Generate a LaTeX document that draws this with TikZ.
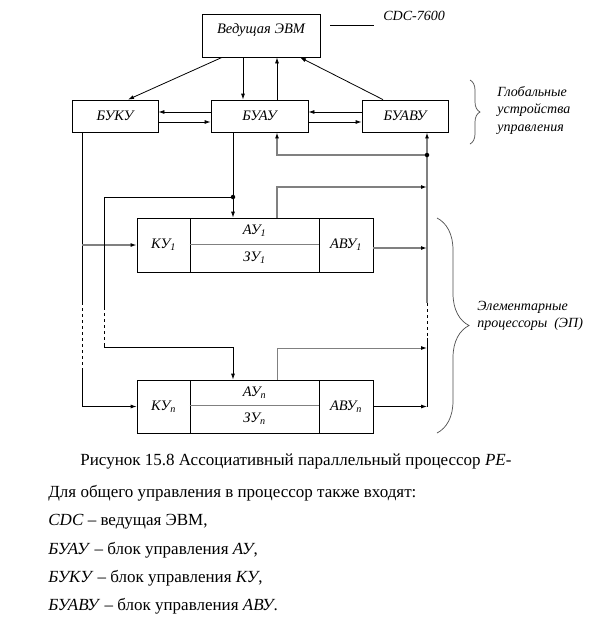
\documentclass[tikz,border=0pt]{standalone}
\usepackage{fontspec}
\setmainfont{Liberation Serif}
\usetikzlibrary{arrows.meta,decorations.pathreplacing}

\begin{document}
\begin{tikzpicture}[x=1pt, y=-1pt, line width=0.8pt,
    blok/.style = {draw, rectangle, inner sep=0pt, font=\fontsize{14.5}{16}\selectfont\itshape},
    arr/.style = {-{Latex[length=6pt,width=4pt,black]}},
    siva/.style = {draw=black!50, line width=1.4pt},
    tocka/.style = {circle, fill, inner sep=0pt, minimum size=4.5pt},
    zavit/.style = {decorate, decoration={brace, amplitude=#1}, draw=black!70, line width=0.7pt},
    oznaka/.style = {align=left, anchor=west, inner sep=0pt, font=\fontsize{14}{17.5}\selectfont\itshape},
    besedilo/.style = {anchor=base west, inner sep=0pt, font=\fontsize{17}{20}\selectfont}]

    \useasboundingbox (0,0) rectangle (611,622);

    % Ведущая ЭВМ и глобальные устройства управления
    \node[blok, minimum width=118, minimum height=43, text height=10pt, text depth=15pt] (evm) at (261,35.5) {Ведущая ЭВМ};
    \node[blok, minimum width=86, minimum height=32] (buku) at (115,116) {БУКУ};
    \node[blok, minimum width=97, minimum height=32] (buau) at (259.5,116) {БУАУ};
    \node[blok, minimum width=86, minimum height=32] (buavu) at (405,116) {БУАВУ};

    % Элементарный процессор 1
    \node[blok, minimum width=53, minimum height=54] (ku1) at (163.5,245) {КУ\textsubscript{1}};
    \node[blok, minimum width=129, minimum height=26] (au1) at (254.5,231) {АУ\textsubscript{1}};
    \node[blok, minimum width=129, minimum height=28] (zu1) at (254.5,258) {ЗУ\textsubscript{1}};
    \node[blok, minimum width=54, minimum height=54] (avu1) at (346,245) {АВУ\textsubscript{1}};

    % Элементарный процессор n
    \node[blok, minimum width=53, minimum height=53] (kun) at (163.5,406.5) {КУ\textsubscript{n}};
    \node[blok, minimum width=129, minimum height=25] (aun) at (254.5,392.5) {АУ\textsubscript{n}};
    \node[blok, minimum width=129, minimum height=28] (zun) at (254.5,419) {ЗУ\textsubscript{n}};
    \node[blok, minimum width=54, minimum height=53] (avun) at (346,406.5) {АВУ\textsubscript{n}};
    \draw[siva] (au1.south west) -- (au1.south east);
    \draw[siva, line width=1pt] (aun.south west) -- (aun.south east);

    % Связи ЭВМ с блоками управления
    \draw[arr] ([xshift=-39pt]evm.south) -- ([xshift=13pt]buku.north);
    \draw[arr] ([xshift=-18pt]evm.south) -- ([xshift=-16.5pt]buau.north);
    \draw[arr] ([xshift=17.5pt]buau.north) -- ([xshift=16pt]evm.south);
    \draw[arr] ([xshift=-22pt]buavu.north) -- ([xshift=39pt]evm.south);
    \draw[arr] ([yshift=4pt]buau.west) -- ([yshift=4pt]buku.east);
    \draw[arr] ([yshift=-6pt]buku.east) -- ([yshift=-6pt]buau.west);
    \draw[arr] ([yshift=4pt]buavu.west) -- ([yshift=4pt]buau.east);
    \draw[arr] ([yshift=-6pt]buau.east) -- ([yshift=-6pt]buavu.west);

    % Шина справа
    \coordinate (s0) at (427,155);
    \coordinate (s1) at (427,187);
    \coordinate (s2) at (427,248);
    \coordinate (s3) at (427,303);
    \coordinate (s4) at (427,338);
    \coordinate (s5) at (427,348);
    \coordinate (s6) at (427,406.5);
    \draw[siva, arr] (s3) -- ([xshift=22pt]buavu.south);
    \draw[dashed] (s3) -- (s4);
    \draw (s4) -- (s6);
    \draw[siva, arr] (s0) -| ([xshift=17.5pt]buau.south);
    \node[tocka] (t0) at (s0) {};
    \draw[siva, arr] ([xshift=22.5pt]au1.north) |- (s1);
    \draw[siva, arr] (avu1.east |- s2) -- (s2);
    \draw[siva, line width=1pt, arr] ([xshift=22.5pt]aun.north) |- (s5);
    \draw[arr] (avun.east) -- (s6);

    % Линия от БУКУ
    \coordinate (k1) at (82,302);
    \coordinate (k2) at (82,368);
    \draw ([xshift=-33pt]buku.south) -- (k1);
    \draw[dashed] (k1) -- (k2);
    \draw[arr] (k2) |- (kun.west);
    \draw[siva, arr] (ku1.west -| k1) -- (ku1.west);

    % Линия от БУАУ
    \coordinate (a0) at (233,197);
    \coordinate (a1) at (104,307);
    \coordinate (a2) at (104,343);
    \coordinate (a3) at (104,347);
    \coordinate (a4) at (233,347);
    \draw ([xshift=-26.5pt]buau.south) -- (a0);
    \draw[arr] (a0) -- ([xshift=-21.5pt]au1.north);
    \node[tocka] (t1) at (a0) {};
    \draw (a0) -| (a1);
    \draw[dashed] (a1) -- (a2);
    \draw[arr] (a2) -- (a3) -- (a4) -- ([xshift=-21.5pt]aun.north);

    % Подписи
    \coordinate (c1) at (330,25);
    \coordinate (c2) at (374,25);
    \draw (c1) -- (c2);
    \node[oznaka] (cdc) at (383,16) {CDC-7600};
    \draw[zavit=10pt] (470,80) -- (470,144);
    \node[oznaka] (glob) at (497,110) {Глобальные\\устройства\\управления};
    \draw[zavit=32pt] (437,218) -- (437,433);
    \node[oznaka] (elem) at (477,316) {Элементарные\\процессоры~~(ЭП)};

    % Текст под рисунком
    \node[besedilo] (cap) at (80,465) {Рисунок 15.8 Ассоциативный параллельный процессор \textit{PE-}};
    \node[besedilo] (r1) at (48,497) {Для общего управления в процессор также входят:};
    \node[besedilo] (r2) at (48,525) {\textit{CDC} -- ведущая ЭВМ,};
    \node[besedilo] (r3) at (48,554) {\textit{БУАУ} -- блок управления \textit{АУ},};
    \node[besedilo] (r4) at (48,582) {\textit{БУКУ} -- блок управления \textit{КУ},};
    \node[besedilo] (r5) at (48,610) {\textit{БУАВУ} -- блок управления \textit{АВУ}.};

\end{tikzpicture}
\end{document}
